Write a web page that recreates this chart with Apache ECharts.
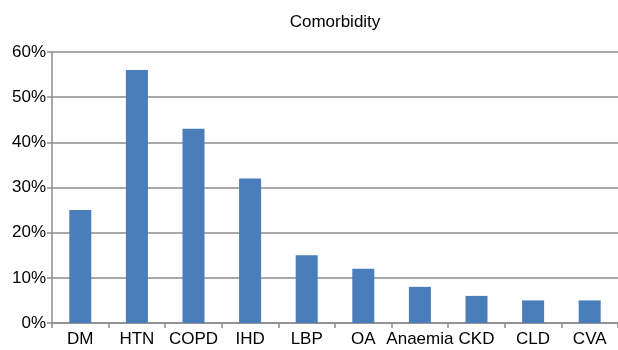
<!DOCTYPE html>
<html><head><meta charset="utf-8">
<script src="https://cdn.jsdelivr.net/npm/echarts@6/dist/echarts.min.js"></script>
<style>html,body{margin:0;padding:0;background:#fff}#c{width:618px;height:350px}</style>
</head><body><div id="c"></div>
<script>
const categories = ["DM","HTN","COPD","IHD","LBP","OA","Anaemia","CKD","CLD","CVA"];
const values = [25,56,43,32,15,12,8,6,5,5];
const yTicks = [0,10,20,30,40,50,60];
const chart = echarts.init(document.getElementById('c'), null, {renderer:'canvas'});
const font = '"Liberation Sans", Arial, sans-serif';
chart.setOption({
  animation:false,
  title:{text:'Comorbidity', left:330, top:9, textAlign:'center',
    textStyle:{fontFamily:font, fontSize:17, fontWeight:'normal', color:'#000'}},
  grid:{left:52, top:52, width:570, height:271, containLabel:false},
  xAxis:{type:'category', data:categories,
    axisLine:{lineStyle:{color:'#8c8c8c', width:1.5}},
    axisTick:{show:true, length:5, alignWithLabel:false, lineStyle:{color:'#8c8c8c', width:1.5}},
    axisLabel:{fontFamily:font, fontSize:17, color:'#000', margin:8, interval:0}},
  yAxis:{type:'value', min:yTicks[0], max:yTicks[yTicks.length-1], interval:10,
    axisLine:{show:true, lineStyle:{color:'#8c8c8c', width:1.5}},
    axisTick:{show:true, length:5, lineStyle:{color:'#8c8c8c', width:1.5}},
    axisLabel:{fontFamily:font, fontSize:17, color:'#000', margin:6, formatter:v=>v+'%'},
    splitLine:{lineStyle:{color:'#8c8c8c', width:1.5}}},
  series:[{type:'bar', data:values, barWidth:22, itemStyle:{color:'#4a7ebb'}}]
});
</script></body></html>
